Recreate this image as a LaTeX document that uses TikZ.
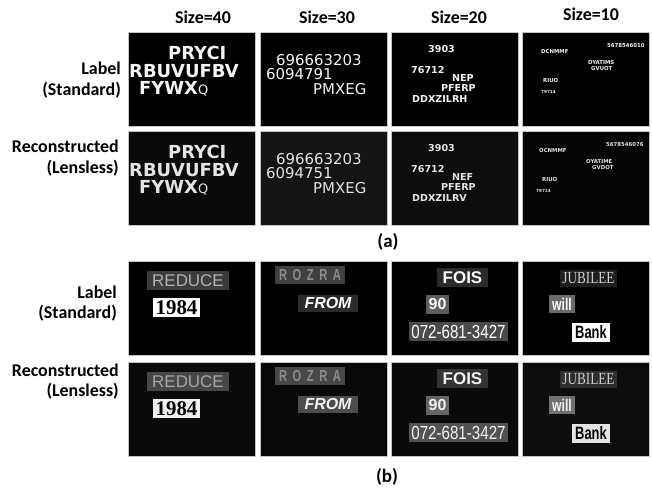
\documentclass[tikz,border=0pt]{standalone}
\usepackage{fontspec}
\setmainfont{Carlito}
\newfontfamily\plainsans{DejaVu Sans}
\newfontfamily\photosans{Liberation Sans}
\newfontfamily\photonarrow[FakeStretch=0.8]{Liberation Sans}
\newfontfamily\photoslim[FakeStretch=0.72]{Liberation Sans}
\newfontfamily\photospaced[FakeStretch=0.7,LetterSpace=35]{Liberation Sans}
\newfontfamily\photoserif{Liberation Serif}
\newfontfamily\photoserifnarrow[FakeStretch=0.78]{Liberation Serif}
\definecolor{panelline}{HTML}{C4C4C4}
\definecolor{stdtext}{HTML}{F4F4F4}
\definecolor{rectext}{HTML}{E4E4E4}
\tikzset{
    panel/.style={draw=panelline,line width=0.7pt,fill=black,minimum width=127bp,minimum height=94bp,inner sep=0pt},
    rowlabel/.style={anchor=base east,inner sep=0pt,font=\fontsize{18}{21}\selectfont\bfseries},
    sizelabel/.style={anchor=base,inner sep=0pt,font=\fontsize{18}{21}\selectfont\bfseries},
    partlabel/.style={inner sep=0pt,font=\fontsize{19}{22}\selectfont\bfseries},
    glyphs/.style={anchor=base west,inner sep=0pt,text=stdtext},
    recglyphs/.style={glyphs,text=rectext},
    size40/.style={font=\plainsans\bfseries\fontsize{18}{18}\selectfont},
    size30/.style={font=\plainsans\fontsize{15}{15}\selectfont},
    size20/.style={font=\plainsans\bfseries\fontsize{9.6}{9.6}\selectfont},
    size10/.style={font=\plainsans\bfseries\fontsize{5.4}{5.4}\selectfont},
    patch/.style={inner sep=0pt,minimum height=18bp,text=white},
}

\begin{document}
\begin{tikzpicture}[x=1bp,y=-1bp]
    \useasboundingbox (0,0) rectangle (652,489);

    \node[sizelabel] (size_40) at (203,24) {Size=40};
    \node[sizelabel] (size_30) at (327,24) {Size=30};
    \node[sizelabel] (size_20) at (459,24) {Size=20};
    \node[sizelabel] (size_10) at (591,21) {Size=10};

    \node[rowlabel] (label_a) at (121,75) {Label};
    \node[rowlabel] (standard_a) at (121,96) {(Standard)};
    \node[rowlabel] (recon_a) at (119,153) {Reconstructed};
    \node[rowlabel] (lensless_a) at (119,174) {(Lensless)};

    \node[panel] (std_40) at (191.5,79) {};
    \node[panel] (std_30) at (323.5,79) {};
    \node[panel] (std_20) at (454.5,79) {};
    \node[panel] (std_10) at (585.5,79) {};
    \node[panel,fill=black!96] (rec_40) at (191.5,178) {};
    \node[panel,fill=black!92] (rec_30) at (323.5,178) {};
    \node[panel,fill=black!95] (rec_20) at (454.5,178) {};
    \node[panel,fill=black!98] (rec_10) at (585.5,178) {};

    \node[glyphs,size40] (pryci_std) at (168,60) {PRYCI};
    \node[glyphs,size40] (rbuv_std) at (129,78) {RBUVUFBV};
    \node[glyphs,size40] (fywx_std) at (139,95) {FYWX{\mdseries\fontsize{13}{13}\selectfont Q}};
    \node[glyphs,size30] (num9_std) at (276,66) {696663203};
    \node[glyphs,size30] (num7_std) at (266,80) {6094791};
    \node[glyphs,size30] (pmxeg_std) at (313,95) {PMXEG};
    \node[glyphs,size20] (n3903_std) at (428,53) {3903};
    \node[glyphs,size20] (n76712_std) at (411,74) {76712};
    \node[glyphs,size20] (nep_std) at (452,82) {NEP};
    \node[glyphs,size20] (pferp_std) at (441,92) {PFERP};
    \node[glyphs,size20] (ddx_std) at (412,103) {DDXZILRH};
    \node[glyphs,size10] (n5678_std) at (607,48) {5678546010};
    \node[glyphs,size10] (dcnmmf_std) at (541,54) {DCNMMF};
    \node[glyphs,size10] (dyatims_std) at (588,65) {DYATIMS};
    \node[glyphs,size10] (gvuot_std) at (591,71) {GVUOT};
    \node[glyphs,size10] (riuo_std) at (543,83) {RIUO};
    \node[glyphs,size10,font=\plainsans\bfseries\fontsize{4.2}{4.2}\selectfont] (n79714_std) at (541,94) {79714};

    \node[recglyphs,size40] (pryci_rec) at (168,159) {PRYCI};
    \node[recglyphs,size40] (rbuv_rec) at (129,177) {RBUVUFBV};
    \node[recglyphs,size40] (fywx_rec) at (139,194) {FYWX{\mdseries\fontsize{13}{13}\selectfont Q}};
    \node[recglyphs,size30] (num9_rec) at (276,165) {696663203};
    \node[recglyphs,size30] (num7_rec) at (266,179) {6094751};
    \node[recglyphs,size30] (pmxeg_rec) at (313,194) {PMXEG};
    \node[recglyphs,size20] (n3903_rec) at (428,152) {3903};
    \node[recglyphs,size20] (n76712_rec) at (411,173) {76712};
    \node[recglyphs,size20] (nef_rec) at (452,181) {NEF};
    \node[recglyphs,size20] (pferp_rec) at (441,191) {PFERP};
    \node[recglyphs,size20] (ddx_rec) at (412,202) {DDXZILRV};
    \node[recglyphs,size10] (n5678_rec) at (606,147) {5678546076};
    \node[recglyphs,size10] (ocnmmf_rec) at (539,153) {OCNMMF};
    \node[recglyphs,size10] (oyatime_rec) at (586,164) {OYATIME};
    \node[recglyphs,size10] (gvdot_rec) at (592,170) {GVDOT};
    \node[recglyphs,size10] (riuo_rec) at (542,182) {RIUO};
    \node[recglyphs,size10,font=\plainsans\bfseries\fontsize{4.2}{4.2}\selectfont] (n79714_rec) at (536,193) {79714};

    \node[partlabel] (part_a) at (388,242) {(a)};

    \node[rowlabel] (label_b) at (117,298) {Label};
    \node[rowlabel] (standard_b) at (117,318) {(Standard)};
    \node[rowlabel] (recon_b) at (119,376) {Reconstructed};
    \node[rowlabel] (lensless_b) at (119,396) {(Lensless)};

    \node[panel] (std_reduce) at (191.5,308) {};
    \node[panel] (std_rozra) at (323.5,308) {};
    \node[panel] (std_fois) at (454.5,308) {};
    \node[panel] (std_jubilee) at (585.5,308) {};
    \node[panel,fill=black!96] (rec_reduce) at (191.5,409.5) {};
    \node[panel,fill=black!97] (rec_rozra) at (323.5,409.5) {};
    \node[panel,fill=black!96] (rec_fois) at (454.5,409.5) {};
    \node[panel,fill=black!95] (rec_jubilee) at (585.5,409.5) {};

    \node[patch,fill=black!77,text=black!30,minimum width=82bp,minimum height=19bp,font=\photosans\fontsize{17}{17}\selectfont] (reduce_std) at (188,280.5) {REDUCE};
    \node[patch,fill=white,text=black,minimum width=47bp,minimum height=19bp,font=\photoserif\bfseries\fontsize{21}{21}\selectfont] (year_std) at (176.5,307.5) {1984};
    \node[patch,fill=black!75,text=black!45,minimum width=70bp,font=\photospaced\bfseries\fontsize{16}{16}\selectfont] (rozra_std) at (310,275) {ROZRA};
    \node[patch,fill=black!83,minimum width=60bp,minimum height=17bp,font=\photosans\bfseries\itshape\fontsize{16}{16}\selectfont] (from_std) at (328,303.5) {FROM};
    \node[patch,fill=black!83,minimum width=51bp,minimum height=19bp,font=\photosans\bfseries\fontsize{17}{17}\selectfont] (fois_std) at (462.5,277.5) {FOIS};
    \node[patch,fill=black!64,minimum width=23bp,minimum height=19bp,font=\photosans\bfseries\fontsize{16}{16}\selectfont] (ninety_std) at (437.5,304.5) {90};
    \node[patch,fill=black!71,minimum width=99bp,minimum height=19bp,font=\photonarrow\fontsize{19}{19}\selectfont] (phone_std) at (458.5,331.5) {072-681-3427};
    \node[patch,fill=black!88,text=black!18,minimum width=57bp,minimum height=17bp,font=\photoserifnarrow\fontsize{17}{17}\selectfont] (jubilee_std) at (588.5,278.5) {JUBILEE};
    \node[patch,fill=black!58,minimum width=26bp,font=\photoslim\bfseries\fontsize{17}{17}\selectfont] (will_std) at (562,304) {will};
    \node[patch,fill=white,text=black,minimum width=38bp,minimum height=19bp,font=\photoslim\bfseries\fontsize{18}{18}\selectfont] (bank_std) at (591,332.5) {Bank};

    \node[patch,fill=black!72,text=black!35,minimum width=82bp,minimum height=19bp,font=\photosans\fontsize{17}{17}\selectfont] (reduce_rec) at (188,381.5) {REDUCE};
    \node[patch,fill=black!6,text=black,minimum width=47bp,minimum height=19bp,font=\photoserif\bfseries\fontsize{21}{21}\selectfont] (year_rec) at (176.5,408.5) {1984};
    \node[patch,fill=black!72,text=black!45,minimum width=70bp,font=\photospaced\bfseries\fontsize{16}{16}\selectfont] (rozra_rec) at (310,376) {ROZRA};
    \node[patch,fill=black!70,text=black!5,minimum width=60bp,minimum height=17bp,font=\photosans\bfseries\itshape\fontsize{16}{16}\selectfont] (from_rec) at (328,404.5) {FROM};
    \node[patch,fill=black!80,text=black!5,minimum width=51bp,minimum height=19bp,font=\photosans\bfseries\fontsize{17}{17}\selectfont] (fois_rec) at (462.5,378.5) {FOIS};
    \node[patch,fill=black!60,text=black!5,minimum width=23bp,minimum height=19bp,font=\photosans\bfseries\fontsize{16}{16}\selectfont] (ninety_rec) at (437.5,405.5) {90};
    \node[patch,fill=black!68,text=black!5,minimum width=99bp,minimum height=19bp,font=\photonarrow\fontsize{19}{19}\selectfont] (phone_rec) at (458.5,432.5) {072-681-3427};
    \node[patch,fill=black!82,text=black!20,minimum width=57bp,minimum height=17bp,font=\photoserifnarrow\fontsize{17}{17}\selectfont] (jubilee_rec) at (588.5,379.5) {JUBILEE};
    \node[patch,fill=black!56,text=black!5,minimum width=26bp,font=\photoslim\bfseries\fontsize{17}{17}\selectfont] (will_rec) at (562,405) {will};
    \node[patch,fill=black!10,text=black,minimum width=38bp,minimum height=19bp,font=\photoslim\bfseries\fontsize{18}{18}\selectfont] (bank_rec) at (591,433.5) {Bank};

    \node[partlabel] (part_b) at (387,477) {(b)};
\end{tikzpicture}
\end{document}
